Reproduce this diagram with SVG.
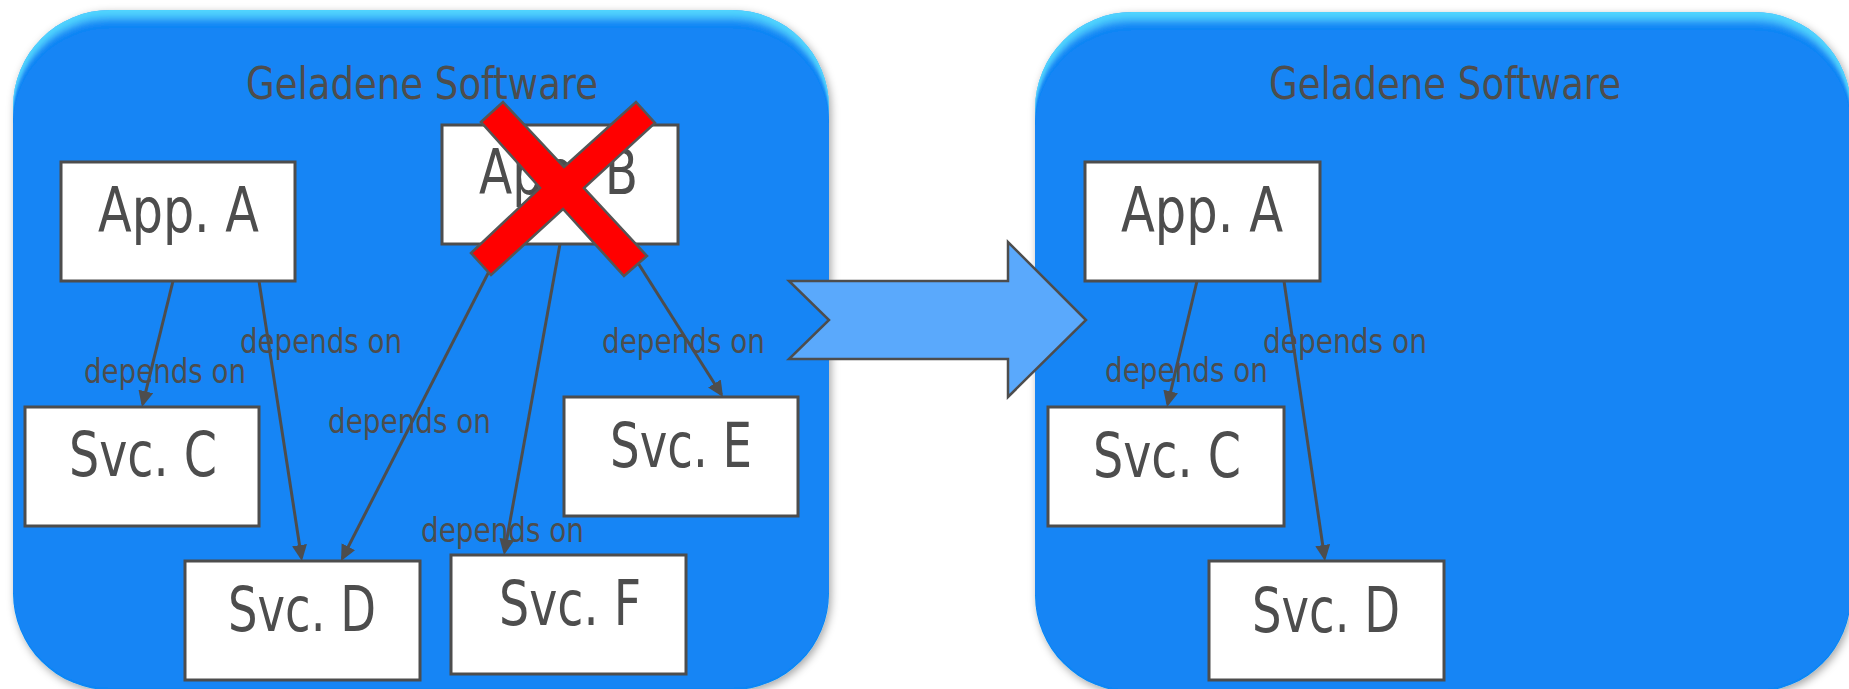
<svg xmlns="http://www.w3.org/2000/svg" width="1849" height="689" viewBox="0 0 1849 689">
<style>
.box{fill:#ffffff;stroke:#4d4d4d;stroke-width:3}
.lbl{font-family:"DejaVu Sans Condensed","DejaVu Sans",sans-serif;fill:#4d4d4d}
.big{font-size:62px}
.title{font-size:44px}
.dep{font-size:34px}
.conn{fill:none;stroke:#4d4d4d;stroke-width:3}
.cont{fill:#1285f5}
</style>
<defs>
<filter id="bev" x="-5%" y="-5%" width="110%" height="110%">
<feGaussianBlur in="SourceAlpha" stdDeviation="0 4" result="b"/>
<feOffset in="b" dx="0" dy="8" result="o"/>
<feComposite in="SourceAlpha" in2="o" operator="out" result="edge"/>
<feFlood flood-color="#55dcff" flood-opacity="0.9" result="fc"/>
<feComposite in="fc" in2="edge" operator="in" result="hl"/>
<feGaussianBlur in="SourceAlpha" stdDeviation="4" result="sb"/>
<feOffset in="sb" dx="2" dy="3" result="so"/>
<feFlood flood-color="#000000" flood-opacity="0.35"/>
<feComposite in2="so" operator="in" result="shadow"/>
<feMerge>
<feMergeNode in="shadow"/>
<feMergeNode in="SourceGraphic"/>
<feMergeNode in="hl"/>
</feMerge>
</filter>
<marker id="ah" markerUnits="userSpaceOnUse" markerWidth="18" markerHeight="16" refX="13" refY="7.5" orient="auto">
<path d="M0,0 L16,7.5 L0,15 z" fill="#4d4d4d"/>
</marker>
</defs>

<g id="container-left">
<rect class="cont" x="13" y="10" width="816" height="680" rx="97" ry="97" filter="url(#bev)"/>
<text class="lbl title" x="246" y="99" textLength="352" lengthAdjust="spacingAndGlyphs">Geladene Software</text>
</g>
<g id="container-right">
<rect class="cont" x="1035" y="12" width="816" height="680" rx="97" ry="97" filter="url(#bev)"/>
<text class="lbl title" x="1269" y="99" textLength="352" lengthAdjust="spacingAndGlyphs">Geladene Software</text>
</g>

<g id="transition-arrow">
<polygon points="789,281 1008,281 1008,242 1086,320 1008,397 1008,359 789,359 829,320" fill="#5aa9fc" stroke="#4d4d4d" stroke-width="2.5" stroke-linejoin="miter"/>
</g>

<g id="left-appA"><rect class="box" x="61" y="162" width="234" height="119"/><text class="lbl big" x="98" y="232" textLength="161" lengthAdjust="spacingAndGlyphs">App. A</text></g>
<g id="left-appB"><rect class="box" x="442" y="125" width="236" height="119"/><text class="lbl big" x="479" y="194" textLength="159" lengthAdjust="spacingAndGlyphs">App. B</text></g>
<g id="left-svcC"><rect class="box" x="25" y="407" width="234" height="119"/><text class="lbl big" x="69" y="476" textLength="148" lengthAdjust="spacingAndGlyphs">Svc. C</text></g>
<g id="left-svcD"><rect class="box" x="185" y="561" width="235" height="119"/><text class="lbl big" x="228" y="631" textLength="148" lengthAdjust="spacingAndGlyphs">Svc. D</text></g>
<g id="left-svcE"><rect class="box" x="564" y="397" width="234" height="119"/><text class="lbl big" x="610" y="467" textLength="142" lengthAdjust="spacingAndGlyphs">Svc. E</text></g>
<g id="left-svcF"><rect class="box" x="451" y="555" width="235" height="119"/><text class="lbl big" x="499" y="625" textLength="142" lengthAdjust="spacingAndGlyphs">Svc. F</text></g>

<g id="right-appA"><rect class="box" x="1085" y="162" width="235" height="119"/><text class="lbl big" x="1121" y="232" textLength="162" lengthAdjust="spacingAndGlyphs">App. A</text></g>
<g id="right-svcC"><rect class="box" x="1048" y="407" width="236" height="119"/><text class="lbl big" x="1093" y="477" textLength="148" lengthAdjust="spacingAndGlyphs">Svc. C</text></g>
<g id="right-svcD"><rect class="box" x="1209" y="561" width="235" height="119"/><text class="lbl big" x="1252" y="632" textLength="148" lengthAdjust="spacingAndGlyphs">Svc. D</text></g>

<g id="connectors">
<path class="conn" d="M173,281 L142.7,404.1" marker-end="url(#ah)"/>
<path class="conn" d="M259,281 L301.5,558" marker-end="url(#ah)"/>
<path class="conn" d="M503,244 L342.4,558.3" marker-end="url(#ah)"/>
<path class="conn" d="M560,244 L504.5,552" marker-end="url(#ah)"/>
<path class="conn" d="M626,244 L721.4,394.5" marker-end="url(#ah)"/>
<path class="conn" d="M1197,281 L1167.7,404.1" marker-end="url(#ah)"/>
<path class="conn" d="M1284,281 L1324.6,558" marker-end="url(#ah)"/>
<text class="lbl dep" x="84" y="383" textLength="162" lengthAdjust="spacingAndGlyphs">depends on</text>
<text class="lbl dep" x="240" y="353" textLength="162" lengthAdjust="spacingAndGlyphs">depends on</text>
<text class="lbl dep" x="328" y="433" textLength="163" lengthAdjust="spacingAndGlyphs">depends on</text>
<text class="lbl dep" x="421" y="542" textLength="163" lengthAdjust="spacingAndGlyphs">depends on</text>
<text class="lbl dep" x="602" y="353" textLength="163" lengthAdjust="spacingAndGlyphs">depends on</text>
<text class="lbl dep" x="1105" y="382" textLength="163" lengthAdjust="spacingAndGlyphs">depends on</text>
<text class="lbl dep" x="1263" y="353" textLength="164" lengthAdjust="spacingAndGlyphs">depends on</text>
</g>

<g id="cross">
<polygon points="481,122 503,102 564,167 636,102 655,123 584,188 647,256 624,276 563,209 491,275 471,253 540,188" fill="#ff0000" stroke="#555555" stroke-width="2.5" stroke-linejoin="miter"/>
</g>
</svg>
